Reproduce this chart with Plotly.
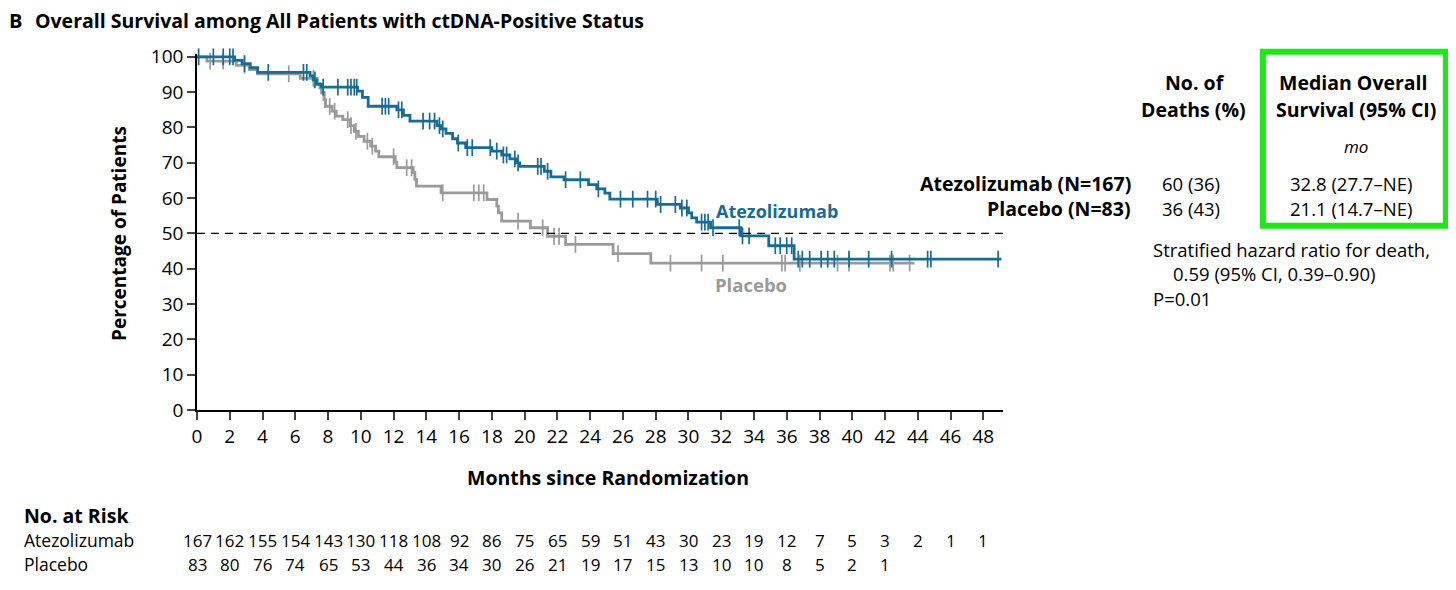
import plotly.graph_objects as go
import bisect

# Kaplan-Meier steps: time (months) where the curve drops, value after the drop
atezo_t = [0, 2.3, 2.75, 3.25, 3.7, 6.9, 7.1, 7.3, 7.6, 9.8, 10.1, 10.45, 12.2, 12.6, 13.0,
           14.65, 14.9, 15.2, 15.6, 15.9, 16.4, 18.0, 18.6, 19.1, 19.5, 19.7, 21.2, 21.6,
           22.4, 23.9, 24.4, 24.9, 25.2, 28.1, 29.5, 30.0, 30.2, 30.5, 31.35, 33.2, 34.9, 36.45]
atezo_s = [100, 99.0, 98.1, 96.9, 95.6, 94.6, 93.5, 92.2, 91.4, 90.3, 88.5, 86.0, 85.0, 83.4, 81.8,
           80.5, 79.6, 78.3, 76.8, 75.6, 74.3, 73.3, 72.2, 71.1, 70.0, 69.0, 67.6, 66.0,
           65.2, 63.8, 62.6, 61.4, 59.7, 58.2, 57.2, 55.8, 54.4, 53.2, 51.6, 49.3, 46.5, 42.7]
atezo_end = 49.1
atezo_cens = [0.1, 1.0, 1.6, 2.0, 2.2, 2.9, 4.35, 6.5, 6.7, 7.2, 7.7, 8.6, 9.2, 9.4, 9.6, 9.75,
              11.3, 11.5, 11.7, 12.3, 12.5, 13.8, 14.2, 14.5, 14.8, 15.0, 15.95, 16.5, 16.8,
              17.9, 18.3, 18.7, 18.9, 19.4, 19.6, 20.8, 21.0, 21.4, 22.5, 23.4, 24.5, 25.85,
              26.6, 27.5, 28.0, 28.3, 29.2, 29.6, 29.9, 30.8, 31.0, 31.2, 31.5, 33.1, 33.3,
              33.7, 35.3, 35.6, 36.0, 36.3, 36.7, 36.95, 37.4, 38.1, 38.5, 38.9, 39.8, 41.0,
              42.4, 44.6, 44.8, 48.9]

plac_t = [0, 0.6, 2.4, 3.2, 3.7, 6.3, 7.35, 7.5, 7.6, 7.75, 7.85, 8.25, 8.5, 8.9, 9.35, 9.6,
          9.85, 10.2, 10.6, 10.9, 11.1, 12.1, 12.2, 13.2, 13.3, 13.4, 14.9, 17.7, 18.3, 18.4,
          18.6, 20.35, 21.4, 22.5, 25.4, 27.7]
plac_s = [100, 98.8, 97.6, 96.4, 95.2, 93.9, 92.5, 91.2, 89.8, 87.9, 86.0, 84.6, 83.2, 82.2,
          80.5, 78.9, 77.5, 76.1, 74.7, 73.3, 71.7, 70.2, 68.6, 67.2, 65.3, 63.4, 61.5, 59.6,
          57.7, 55.8, 53.5, 51.6, 49.2, 46.9, 44.3, 41.6]
plac_end = 43.8
plac_cens = [0.8, 1.6, 2.9, 5.6, 7.1, 7.8, 8.1, 8.4, 9.2, 9.4, 9.7, 10.4, 10.7, 12.0, 12.8, 13.1,
             15.0, 16.9, 17.2, 17.5, 19.6, 21.1, 21.8, 22.1, 23.1, 25.7, 28.9, 30.8, 32.1,
             35.7, 35.9, 36.8, 39.1, 39.8, 42.3, 42.5, 43.5]

risk_months = list(range(0, 50, 2))
risk_atezo = [167, 162, 155, 154, 143, 130, 118, 108, 92, 86, 75, 65, 59, 51, 43, 30, 23, 19, 12, 7, 5, 3, 2, 1, 1]
risk_plac = [83, 80, 76, 74, 65, 53, 44, 36, 34, 30, 26, 21, 19, 17, 15, 13, 10, 10, 8, 5, 2, 1]

BLUE = "#176b94"
GRAY = "#9a9a9a"
FONT = "Open Sans"

# page is drawn with the browser's 8px body margin, so the figure starts at (8, 8)
OFF = 8
PAGE_W, PAGE_H = 1456, 590
W, H = PAGE_W - OFF, PAGE_H - OFF
# plot area in page pixels
L, R, T, B = 196.7, 1003, 54.2, 410.5


def px(x):
    return (x - L) / (R - L)


def py(y):
    return (B - y) / (B - T)


def surv_at(ts, ss, t):
    i = bisect.bisect_right(ts, t) - 1
    return ss[max(i, 0)]


fig = go.Figure()

for ts, ss, end, cens, col in [(plac_t, plac_s, plac_end, plac_cens, GRAY),
                               (atezo_t, atezo_s, atezo_end, atezo_cens, BLUE)]:
    fig.add_trace(go.Scatter(x=ts + [end], y=ss + [ss[-1]], mode="lines",
                             line=dict(color=col, width=2.8, shape="hv"),
                             hoverinfo="skip", showlegend=False))
    fig.add_trace(go.Scatter(x=cens, y=[surv_at(ts, ss, c) for c in cens], mode="markers",
                             marker=dict(symbol="line-ns", size=12, line=dict(color=col, width=1.7)),
                             hoverinfo="skip", showlegend=False, cliponaxis=False))

fig.add_shape(type="line", x0=0, x1=49.2, y0=50, y1=50, xref="x", yref="y",
              line=dict(color="black", width=1.3, dash="8px,6px"))

ann = []


def txt(x, y, s, size=19, bold=False, color="black", xa="left", italic=False, **kw):
    if bold:
        s = "<b>" + s + "</b>"
    if italic:
        s = "<i>" + s + "</i>"
    ann.append(dict(x=px(x), y=py(y), xref="paper", yref="paper", text=s, showarrow=False,
                    xanchor=xa, yanchor="middle", font=dict(size=size, color=color, family=FONT), **kw))


txt(7, 21, "B", size=20, bold=True)
txt(33, 21, "Overall Survival among All Patients with ctDNA-Positive Status", size=19.5, bold=True)
txt(118, 234, "Percentage of Patients", size=19, bold=True, xa="center", textangle=-90)
txt(608, 478, "Months since Randomization", size=19.5, bold=True, xa="center")

# inline curve labels
txt(777, 211, "Atezolizumab", size=18, bold=True, color=BLUE, xa="center")
txt(751, 285, "Placebo", size=18.5, bold=True, color=GRAY, xa="center")

# right-hand summary table
txt(1195, 83, "No. of", size=19.5, bold=True, xa="center")
txt(1194, 110, "Deaths (%)", size=19.5, bold=True, xa="center")
txt(1354, 83, "Median Overall", size=19.5, bold=True, xa="center")
txt(1356, 110, "Survival (95% CI)", size=19.5, bold=True, xa="center")
txt(1356, 147, "mo", size=17, italic=True, xa="center")
txt(1133, 184, "Atezolizumab (N=167)", size=19.5, bold=True, xa="right")
txt(1133, 209, "Placebo (N=83)", size=19.5, bold=True, xa="right")
txt(1191, 184, "60 (36)", size=18.5, xa="center")
txt(1191, 209, "36 (43)", size=18.5, xa="center")
txt(1351, 184, "32.8 (27.7\u2013NE)", size=18.5, xa="center")
txt(1351, 209, "21.1 (14.7\u2013NE)", size=18.5, xa="center")
txt(1151, 250, "Stratified hazard ratio for death,", size=18.5)
txt(1171, 274, "0.59 (95% CI, 0.39\u20130.90)", size=18.5)
txt(1151, 299, "P=0.01", size=18.5)

# number at risk
txt(22, 516, "No. at Risk", size=19.5, bold=True)
txt(22, 541, "Atezolizumab", size=17.5)
txt(22, 565, "Placebo", size=17.5)
for m, n in zip(risk_months, risk_atezo):
    ann.append(dict(x=m, y=py(541), xref="x", yref="paper", text=str(n), showarrow=False,
                    xanchor="center", yanchor="middle", font=dict(size=17, family=FONT, color="black")))
for m, n in zip(risk_months, risk_plac):
    ann.append(dict(x=m, y=py(565), xref="x", yref="paper", text=str(n), showarrow=False,
                    xanchor="center", yanchor="middle", font=dict(size=17, family=FONT, color="black")))

fig.add_shape(type="rect", xref="paper", yref="paper", x0=px(1263), x1=px(1446), y0=py(226), y1=py(52),
              line=dict(color="#22e41c", width=6))

fig.update_layout(
    width=W, height=H,
    margin=dict(l=L - OFF, r=PAGE_W - R, t=T - OFF, b=PAGE_H - B),
    paper_bgcolor="white", plot_bgcolor="white",
    font=dict(family=FONT, color="black"),
    annotations=ann,
    xaxis=dict(range=[0, 49.2], tickmode="array", tickvals=risk_months, ticks="outside", ticklen=8,
               tickwidth=1.5, showline=True, linecolor="black", linewidth=1.6, showgrid=False,
               zeroline=False, tickfont=dict(size=19, family=FONT)),
    yaxis=dict(range=[0, 100.8], tickvals=list(range(0, 101, 10)), ticks="outside", ticklen=8,
               tickwidth=1.5, showline=True, linecolor="black", linewidth=1.6, showgrid=False,
               zeroline=False, tickfont=dict(size=19, family=FONT)),
)

fig.write_html("out.html")
